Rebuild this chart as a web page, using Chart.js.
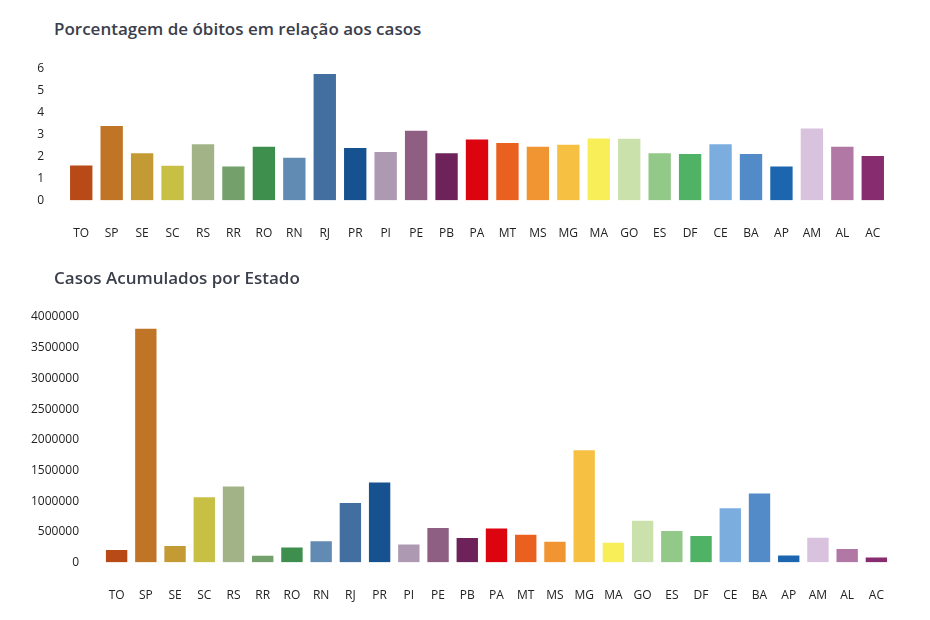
<!DOCTYPE html>
<html>
<head>
<meta charset="utf-8">
<script src="https://cdn.jsdelivr.net/npm/chart.js@4"></script>
<style>
  body { margin: 0; background: #fff; font-family: "Open Sans", sans-serif; }
  .titulo { position: absolute; left: 54px; font-size: 17px; font-weight: 600; color: #3b3e4b; line-height: 24px; white-space: nowrap; }
  canvas { position: absolute; left: 0; }
</style>
</head>
<body>
<div class="titulo" style="top:17px">Porcentagem de óbitos em relação aos casos</div>
<canvas id="graficoObitos" width="930" height="275" style="top:0"></canvas>
<div class="titulo" style="top:266px">Casos Acumulados por Estado</div>
<canvas id="graficoCasos" width="930" height="387" style="top:250px"></canvas>
<script>
// estados (eixo x)
const estados = ['TO', 'SP', 'SE', 'SC', 'RS', 'RR', 'RO', 'RN', 'RJ', 'PR', 'PI', 'PE', 'PB', 'PA',
                 'MT', 'MS', 'MG', 'MA', 'GO', 'ES', 'DF', 'CE', 'BA', 'AP', 'AM', 'AL', 'AC'];

// porcentagem de óbitos em relação aos casos
const porcentagemObitos = [1.65, 3.45, 2.2, 1.64, 2.62, 1.6, 2.5, 2.0, 5.82, 2.44, 2.26, 3.23, 2.2, 2.83,
                           2.67, 2.5, 2.59, 2.88, 2.86, 2.21, 2.17, 2.62, 2.17, 1.6, 3.33, 2.5, 2.08];

// casos acumulados por estado
const casosAcumulados = [220000, 3825000, 285000, 1080000, 1255000, 126000, 262000, 366000, 988000, 1320000,
                         311000, 579000, 415000, 573000, 470000, 355000, 1845000, 339000, 699000, 530000,
                         448000, 900000, 1140000, 131000, 420000, 236000, 98000];

// uma cor por estado
const cores = ['#b84a17', '#c07526', '#c49a34', '#c8bf45', '#a2b487', '#74a06b', '#3e8e4e', '#628bb3',
               '#426f9f', '#165190', '#ad9ab2', '#8e5f82', '#6d2359', '#dc040f', '#e9601f', '#f09532',
               '#f6c143', '#f7ee58', '#cbe1ab', '#92c888', '#4fb264', '#7badde', '#528bc8', '#1b66ae',
               '#d8c2de', '#b177a5', '#862c6f'];

Chart.defaults.font.family = '"Open Sans", sans-serif';
Chart.defaults.font.size = 12;
Chart.defaults.color = '#222';

// monta as opções de cada gráfico (larguras fixas dos eixos para alinhar com a figura)
function opcoes(maximo, passo, larguraY, padY, padding) {
    return {
        responsive: false,
        animation: false,
        layout: { padding: padding },
        plugins: { legend: { display: false }, tooltip: { enabled: false } },
        scales: {
            x: {
                grid: { display: false, drawTicks: false },
                border: { display: false },
                ticks: { padding: 26, maxRotation: 0, autoSkip: false }
            },
            y: {
                min: 0,
                max: maximo,
                grid: { display: false, drawTicks: false },
                border: { display: false },
                ticks: { stepSize: passo, padding: padY, callback: (v) => String(v) },
                afterFit: (eixo) => { eixo.width = larguraY; }
            }
        }
    };
}

function dataset(valores) {
    return {
        data: valores,
        backgroundColor: cores,
        borderColor: 'rgba(255,255,255,0.45)',
        borderWidth: 1,
        categoryPercentage: 1,
        barPercentage: 0.8
    };
}

new Chart(document.getElementById('graficoObitos'), {
    type: 'bar',
    data: { labels: estados, datasets: [dataset(porcentagemObitos)] },
    options: opcoes(6, 1, 66, 22, { top: 69, right: 42, bottom: 8, left: 0 })
});

new Chart(document.getElementById('graficoCasos'), {
    type: 'bar',
    data: { labels: estados, datasets: [dataset(casosAcumulados)] },
    options: opcoes(4000000, 500000, 102, 23, { top: 67, right: 39, bottom: 8, left: 0 })
});
</script>
</body>
</html>
